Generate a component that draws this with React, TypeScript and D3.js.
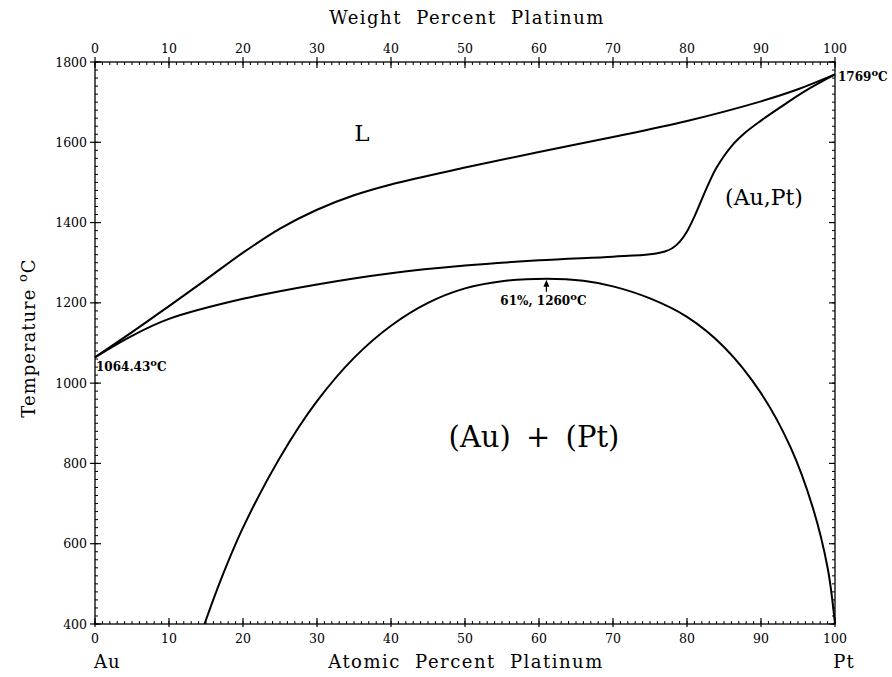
import React, { Component, createRef } from "react";
import * as d3 from "d3";

// composition ticks (same spacing on both scales, Au and Pt nearly same mass)
const atomicTicks = [0, 10, 20, 30, 40, 50, 60, 70, 80, 90, 100];
const weightTicks = [0, 10, 20, 30, 40, 50, 60, 70, 80, 90, 100];
const tempTicks = [400, 600, 800, 1000, 1200, 1400, 1600, 1800];

// liquidus
const liquidusX = [0, 5, 10, 15, 20, 25, 30, 35, 40, 50, 60, 70, 80, 90, 95, 100];
const liquidusT = [1064.43, 1127, 1192, 1258, 1325, 1385, 1432, 1468, 1495, 1537, 1576, 1613, 1653, 1702, 1732, 1769];

// solidus
const solidusX = [0, 5, 10, 20, 30, 40, 50, 60, 70, 75, 77, 78, 79, 80, 81, 82, 83, 84, 86, 88, 90, 93, 96, 100];
const solidusT = [1064.43, 1118, 1160, 1210, 1246, 1274, 1293, 1306, 1315, 1321, 1328, 1336, 1352, 1378, 1415, 1458, 1500, 1537, 1590, 1626, 1654, 1692, 1728, 1769];

// solvus (miscibility gap)
const solvusX = [14.8, 17, 20, 25, 30, 35, 40, 45, 50, 55, 61, 66, 70, 75, 80, 85, 90, 94, 97, 99, 100];
const solvusT = [400, 510, 640, 815, 955, 1063, 1143, 1200, 1236, 1254, 1260, 1255, 1241, 1211, 1165, 1090, 975, 840, 690, 540, 400];

const W = 892;
const H = 677;
const SERIF = "'DejaVu Serif', 'Liberation Serif', serif";

class App extends Component {
    constructor(props) {
        super(props);
        this.svgRef = createRef();
    }

    componentDidMount() {
        this.drawChart();
    }

    drawChart() {
        const svg = d3.select(this.svgRef.current);
        svg.selectAll("*").remove();

        const x = d3.scaleLinear().domain([0, 100]).range([95, 835]);
        const y = d3.scaleLinear().domain([400, 1800]).range([624, 62]);
        const [x0, x1] = x.range();
        const [y1, y0] = y.range();

        const g = svg.append("g").attr("stroke", "#000").attr("fill", "none");

        // frame
        g.append("rect")
            .attr("x", x0)
            .attr("y", y0)
            .attr("width", x1 - x0)
            .attr("height", y1 - y0)
            .attr("stroke-width", 1.3);

        // minor ticks
        const minorX = d3.range(0, 101, 1);
        const minorT = d3.range(400, 1801, 20);
        minorX.forEach(v => {
            g.append("line").attr("x1", x(v)).attr("x2", x(v))
                .attr("y1", y1).attr("y2", y1 - 3).attr("stroke-width", 1);
            g.append("line").attr("x1", x(v)).attr("x2", x(v))
                .attr("y1", y0).attr("y2", y0 + 3).attr("stroke-width", 1);
        });
        minorT.forEach(v => {
            g.append("line").attr("x1", x0).attr("x2", x0 + 3)
                .attr("y1", y(v)).attr("y2", y(v)).attr("stroke-width", 1);
            g.append("line").attr("x1", x1).attr("x2", x1 - 3)
                .attr("y1", y(v)).attr("y2", y(v)).attr("stroke-width", 1);
        });

        // major ticks
        atomicTicks.forEach(v => {
            g.append("line").attr("x1", x(v)).attr("x2", x(v))
                .attr("y1", y1 + 3).attr("y2", y1 - 6).attr("stroke-width", 1.2);
        });
        weightTicks.forEach(v => {
            g.append("line").attr("x1", x(v)).attr("x2", x(v))
                .attr("y1", y0 - 5).attr("y2", y0 + 6).attr("stroke-width", 1.2);
        });
        tempTicks.forEach(v => {
            g.append("line").attr("x1", x0 - 5).attr("x2", x0 + 6)
                .attr("y1", y(v)).attr("y2", y(v)).attr("stroke-width", 1.2);
            g.append("line").attr("x1", x1).attr("x2", x1 - 6)
                .attr("y1", y(v)).attr("y2", y(v)).attr("stroke-width", 1.2);
        });

        // tick labels
        const t = svg.append("g")
            .attr("font-family", SERIF)
            .attr("font-size", 12.5)
            .attr("fill", "#000");

        t.selectAll(".xb").data(atomicTicks).enter().append("text")
            .attr("x", d => x(d)).attr("y", y1 + 19)
            .attr("text-anchor", "middle").text(d => d);
        t.selectAll(".xt").data(weightTicks).enter().append("text")
            .attr("x", d => x(d)).attr("y", y0 - 9)
            .attr("text-anchor", "middle").text(d => d);
        t.selectAll(".yl").data(tempTicks).enter().append("text")
            .attr("x", x0 - 8).attr("y", d => y(d) + 4.5)
            .attr("text-anchor", "end").text(d => d);

        // curves
        const line = d3.line()
            .x(d => x(d[0]))
            .y(d => y(d[1]))
            .curve(d3.curveCatmullRom.alpha(0.5));

        const curves = [
            d3.zip(liquidusX, liquidusT),
            d3.zip(solidusX, solidusT),
            d3.zip(solvusX, solvusT)
        ];
        g.selectAll(".curve").data(curves).enter().append("path")
            .attr("d", line)
            .attr("stroke-width", 2);

        // axis titles
        const a = svg.append("g")
            .attr("font-family", SERIF)
            .attr("fill", "#000");

        a.append("text")
            .attr("x", 467).attr("y", 24)
            .attr("text-anchor", "middle")
            .attr("font-size", 18)
            .attr("letter-spacing", 1.5)
            .attr("word-spacing", 7)
            .text("Weight Percent Platinum");
        a.append("text")
            .attr("x", 466).attr("y", 668)
            .attr("text-anchor", "middle")
            .attr("font-size", 18)
            .attr("letter-spacing", 1.5)
            .attr("word-spacing", 7)
            .text("Atomic Percent Platinum");
        a.append("text").attr("x", x0 - 1).attr("y", 668)
            .attr("font-size", 18).attr("letter-spacing", 1).text("Au");
        a.append("text").attr("x", x1 + 9).attr("y", 668)
            .attr("text-anchor", "middle")
            .attr("font-size", 18).attr("letter-spacing", 1).text("Pt");

        const yt = a.append("text")
            .attr("transform", "translate(35, 338) rotate(-90)")
            .attr("text-anchor", "middle")
            .attr("font-size", 18)
            .attr("letter-spacing", 1);
        yt.append("tspan").text("Temperature ");
        yt.append("tspan").attr("dy", -8).attr("font-size", 13).text("o");
        yt.append("tspan").attr("dy", 8).text("C");

        // phase field labels
        a.append("text").attr("x", 362).attr("y", 141)
            .attr("text-anchor", "middle").attr("font-size", 23).text("L");
        a.append("text").attr("x", 764).attr("y", 205)
            .attr("text-anchor", "middle").attr("font-size", 22).text("(Au,Pt)");
        a.append("text").attr("x", 534).attr("y", 447)
            .attr("text-anchor", "middle").attr("font-size", 29)
            .attr("word-spacing", 6).text("(Au) + (Pt)");

        // point annotations
        const n = svg.append("g")
            .attr("font-family", SERIF)
            .attr("font-size", 12)
            .attr("font-weight", "bold")
            .attr("fill", "#000");

        const deg = (sel, label) => {
            sel.append("tspan").text(label);
            sel.append("tspan").attr("dy", -5).attr("font-size", 10).text("o");
            sel.append("tspan").attr("dy", 5).text("C");
        };

        deg(n.append("text").attr("x", x0 + 1).attr("y", y(1064.43) + 14), "1064.43");
        deg(n.append("text").attr("x", x1 + 3).attr("y", y(1769) + 7), "1769");
        deg(n.append("text").attr("x", x(61) - 3).attr("y", y(1260) + 26)
            .attr("text-anchor", "middle"), "61%,  1260");

        // arrow to critical point
        g.append("line")
            .attr("x1", x(61)).attr("x2", x(61))
            .attr("y1", y(1260) + 13).attr("y2", y(1260) + 4)
            .attr("stroke-width", 1.2);
        svg.append("path")
            .attr("d", d3.line()([
                [x(61) - 3, y(1260) + 8],
                [x(61), y(1260) + 1],
                [x(61) + 3, y(1260) + 8]
            ]) + "Z")
            .attr("fill", "#000");
    }

    render() {
        return (
            <svg
                ref={this.svgRef}
                width={W}
                height={H}
                style={{ position: "absolute", left: 0, top: 0, background: "#fff" }}
            ></svg>
        );
    }
}

export default App;
